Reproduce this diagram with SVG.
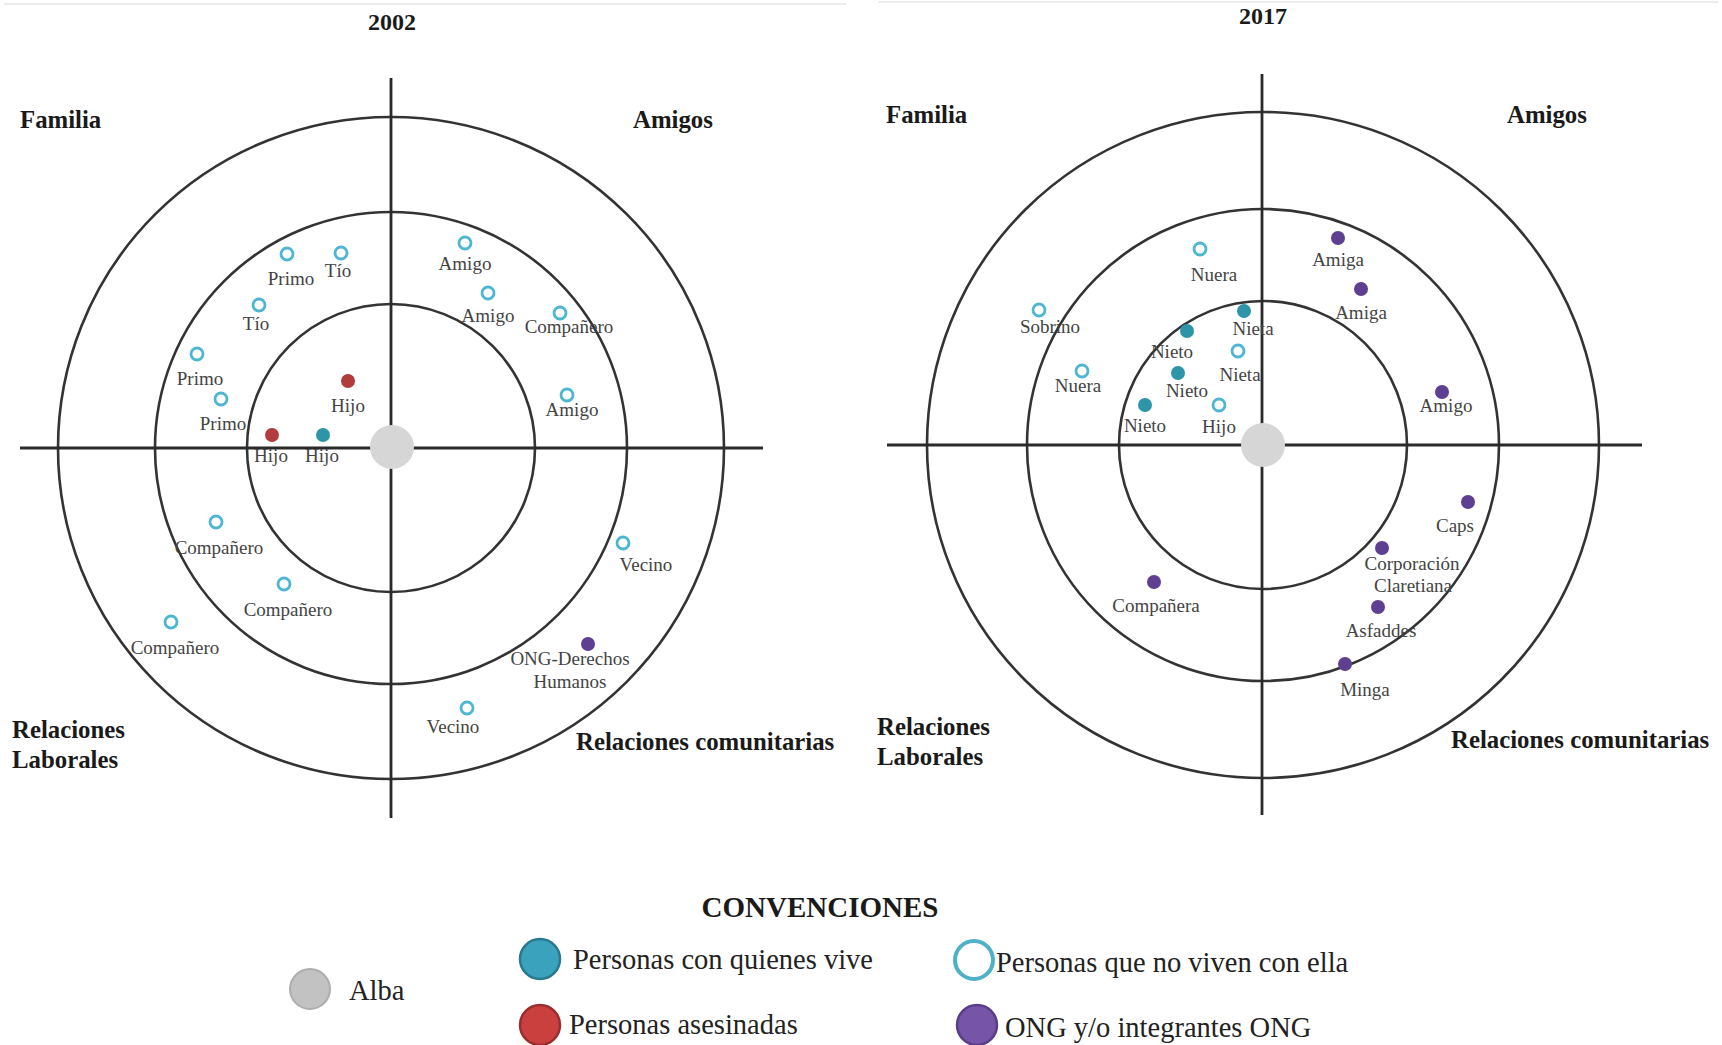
<svg xmlns="http://www.w3.org/2000/svg" width="1722" height="1045" viewBox="0 0 1722 1045">
<style>
  .ring{fill:none;stroke:#333;stroke-width:2.6}
  .axis{stroke:#2a2a2a;stroke-width:2.8}
  .alba{fill:#d6d6d6}
  .open{fill:#fff;stroke:#4db6d3;stroke-width:2.8}
  .live{fill:#2e95a8}
  .killed{fill:#b23c3c}
  .ngo{fill:#5e3f91}
  .lbl{font-family:"Liberation Serif","Times New Roman",serif;font-size:19px;fill:#444;text-anchor:middle}
  .cat{font-family:"Liberation Serif","Times New Roman",serif;font-size:24.8px;font-weight:bold;fill:#1a1a1a}
  .yr{font-size:24px}
  .mid{text-anchor:middle}
  .leg{font-family:"Liberation Serif","Times New Roman",serif;font-size:28.5px;fill:#222}
  .frame{stroke:#ececec;stroke-width:2}
</style>

<!-- faint table borders at the top -->
<line class="frame" x1="4" y1="4" x2="846" y2="4"/>
<line class="frame" x1="878" y1="2" x2="1718" y2="2"/>

<!-- ===== 2002 ===== -->
<text class="cat yr mid" x="392" y="30">2002</text>
<g id="axes-2002">
  <ellipse class="ring" cx="391" cy="448" rx="333" ry="331"/>
  <circle class="ring" cx="391" cy="448" r="236"/>
  <circle class="ring" cx="391" cy="448" r="144"/>
  <line class="axis" x1="391" y1="78" x2="391" y2="818"/>
  <line class="axis" x1="20" y1="448" x2="763" y2="448"/>
</g>
<g id="quadrants-2002">
  <text class="cat" x="20" y="128">Familia</text>
  <text class="cat" x="633" y="128">Amigos</text>
  <text class="cat" x="12" y="738">Relaciones</text>
  <text class="cat" x="12" y="768">Laborales</text>
  <text class="cat" x="576" y="750">Relaciones comunitarias</text>
</g>
<g id="alba-2002"><ellipse class="alba" cx="392" cy="447" rx="22" ry="22"/></g>

<g id="n2002-primo1"><circle class="open" cx="287" cy="254" r="6"/><text class="lbl" x="291" y="285">Primo</text></g>
<g id="n2002-tio1"><circle class="open" cx="341" cy="253" r="6"/><text class="lbl" x="338" y="277">Tío</text></g>
<g id="n2002-tio2"><circle class="open" cx="259" cy="305" r="6"/><text class="lbl" x="256" y="330">Tío</text></g>
<g id="n2002-primo2"><circle class="open" cx="197" cy="354" r="6"/><text class="lbl" x="200" y="385">Primo</text></g>
<g id="n2002-primo3"><circle class="open" cx="221" cy="399" r="6"/><text class="lbl" x="223" y="430">Primo</text></g>
<g id="n2002-amigo1"><circle class="open" cx="465" cy="243" r="6"/><text class="lbl" x="465" y="270">Amigo</text></g>
<g id="n2002-amigo2"><circle class="open" cx="488" cy="293" r="6"/><text class="lbl" x="488" y="322">Amigo</text></g>
<g id="n2002-companero1"><circle class="open" cx="560" cy="313" r="6"/><text class="lbl" x="569" y="333">Compañero</text></g>
<g id="n2002-amigo3"><circle class="open" cx="567" cy="395" r="6"/><text class="lbl" x="572" y="416">Amigo</text></g>
<g id="n2002-companero2"><circle class="open" cx="216" cy="522" r="6"/><text class="lbl" x="219" y="554">Compañero</text></g>
<g id="n2002-companero3"><circle class="open" cx="284" cy="584" r="6"/><text class="lbl" x="288" y="616">Compañero</text></g>
<g id="n2002-companero4"><circle class="open" cx="171" cy="622" r="6"/><text class="lbl" x="175" y="654">Compañero</text></g>
<g id="n2002-vecino1"><circle class="open" cx="623" cy="543" r="6"/><text class="lbl" x="646" y="571">Vecino</text></g>
<g id="n2002-vecino2"><circle class="open" cx="467" cy="708" r="6"/><text class="lbl" x="453" y="733">Vecino</text></g>
<g id="n2002-hijo1"><circle class="killed" cx="348" cy="381" r="7"/><text class="lbl" x="348" y="412">Hijo</text></g>
<g id="n2002-hijo2"><circle class="killed" cx="272" cy="435" r="7"/><text class="lbl" x="271" y="462">Hijo</text></g>
<g id="n2002-hijo3"><circle class="live" cx="323" cy="435" r="7"/><text class="lbl" x="322" y="462">Hijo</text></g>
<g id="n2002-ong"><circle class="ngo" cx="588" cy="644" r="7"/><text class="lbl" x="570" y="665">ONG-Derechos</text><text class="lbl" x="570" y="688">Humanos</text></g>

<!-- ===== 2017 ===== -->
<text class="cat yr mid" x="1263" y="24">2017</text>
<g id="axes-2017">
  <ellipse class="ring" cx="1263" cy="445" rx="336" ry="333"/>
  <circle class="ring" cx="1263" cy="445" r="236"/>
  <circle class="ring" cx="1263" cy="445" r="144"/>
  <line class="axis" x1="1262" y1="74" x2="1262" y2="815"/>
  <line class="axis" x1="887" y1="445" x2="1642" y2="445"/>
</g>
<g id="quadrants-2017">
  <text class="cat" x="886" y="123">Familia</text>
  <text class="cat" x="1507" y="123">Amigos</text>
  <text class="cat" x="877" y="735">Relaciones</text>
  <text class="cat" x="877" y="765">Laborales</text>
  <text class="cat" x="1451" y="748">Relaciones comunitarias</text>
</g>
<g id="alba-2017"><ellipse class="alba" cx="1263" cy="445" rx="22" ry="22"/></g>

<g id="n2017-nuera1"><circle class="open" cx="1200" cy="249" r="6"/><text class="lbl" x="1214" y="281">Nuera</text></g>
<g id="n2017-sobrino"><circle class="open" cx="1039" cy="310" r="6"/><text class="lbl" x="1050" y="333">Sobrino</text></g>
<g id="n2017-nuera2"><circle class="open" cx="1082" cy="371" r="6"/><text class="lbl" x="1078" y="392">Nuera</text></g>
<g id="n2017-nieta2"><circle class="open" cx="1238" cy="351" r="6"/><text class="lbl" x="1240" y="381">Nieta</text></g>
<g id="n2017-hijo"><circle class="open" cx="1219" cy="405" r="6"/><text class="lbl" x="1219" y="433">Hijo</text></g>
<g id="n2017-nieta1"><circle class="live" cx="1244" cy="311" r="7"/><text class="lbl" x="1253" y="335">Nieta</text></g>
<g id="n2017-nieto1"><circle class="live" cx="1187" cy="331" r="7"/><text class="lbl" x="1172" y="358">Nieto</text></g>
<g id="n2017-nieto2"><circle class="live" cx="1178" cy="373" r="7"/><text class="lbl" x="1187" y="397">Nieto</text></g>
<g id="n2017-nieto3"><circle class="live" cx="1145" cy="405" r="7"/><text class="lbl" x="1145" y="432">Nieto</text></g>
<g id="n2017-amiga1"><circle class="ngo" cx="1338" cy="238" r="7"/><text class="lbl" x="1338" y="266">Amiga</text></g>
<g id="n2017-amiga2"><circle class="ngo" cx="1361" cy="289" r="7"/><text class="lbl" x="1361" y="319">Amiga</text></g>
<g id="n2017-amigo"><circle class="ngo" cx="1442" cy="392" r="7"/><text class="lbl" x="1446" y="412">Amigo</text></g>
<g id="n2017-caps"><circle class="ngo" cx="1468" cy="502" r="7"/><text class="lbl" x="1455" y="532">Caps</text></g>
<g id="n2017-claretiana"><circle class="ngo" cx="1382" cy="548" r="7"/><text class="lbl" x="1412" y="570">Corporación</text><text class="lbl" x="1413" y="592">Claretiana</text></g>
<g id="n2017-companera"><circle class="ngo" cx="1154" cy="582" r="7"/><text class="lbl" x="1156" y="612">Compañera</text></g>
<g id="n2017-asfaddes"><circle class="ngo" cx="1378" cy="607" r="7"/><text class="lbl" x="1381" y="637">Asfaddes</text></g>
<g id="n2017-minga"><circle class="ngo" cx="1345" cy="664" r="7"/><text class="lbl" x="1365" y="696">Minga</text></g>

<!-- ===== legend ===== -->
<g id="legend">
  <text class="cat mid" x="820" y="917" style="font-size:29px">CONVENCIONES</text>
  <circle cx="310" cy="989" r="20" fill="#c2c2c2" stroke="#adadad" stroke-width="2"/>
  <text class="leg" x="349" y="1000">Alba</text>
  <circle cx="540" cy="959" r="20" fill="#3aa2bc" stroke="#27798d" stroke-width="2.5"/>
  <text class="leg" x="573" y="969">Personas con quienes vive</text>
  <circle cx="540" cy="1025" r="20" fill="#c9403f" stroke="#9a2e2e" stroke-width="2.5"/>
  <text class="leg" x="569" y="1034">Personas asesinadas</text>
  <circle cx="974" cy="960" r="19" fill="#fff" stroke="#4fb1c8" stroke-width="4"/>
  <text class="leg" x="996" y="972">Personas que no viven con ella</text>
  <circle cx="977" cy="1025" r="20" fill="#7654a8" stroke="#583d88" stroke-width="2.5"/>
  <text class="leg" x="1005" y="1037">ONG y/o integrantes ONG</text>
</g>
</svg>
